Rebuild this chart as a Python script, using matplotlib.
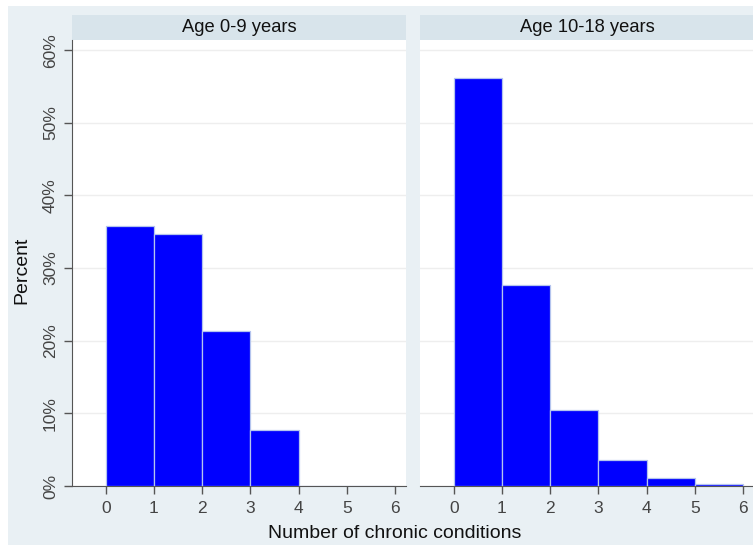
import matplotlib.pyplot as plt
from matplotlib.patches import Rectangle

# dados
condicoes = [0, 1, 2, 3, 4, 5]
pct_0_9 = [35.8, 34.7, 21.3, 7.7, 0.0, 0.0]
pct_10_18 = [56.2, 27.7, 10.5, 3.6, 1.1, 0.3]
paineis = ["Age 0-9 years", "Age 10-18 years"]
yticks = [0, 10, 20, 30, 40, 50, 60]
ytick_labels = ["0%", "10%", "20%", "30%", "40%", "50%", "60%"]

plt.rcParams['font.family'] = ['Liberation Sans', 'DejaVu Sans']

W, H = 753, 547
fig = plt.figure(figsize=(W / 100, H / 100), dpi=100)
fig.patch.set_facecolor('white')

bottom = 1 - 486 / H
top = 1 - 40 / H
largura = 334 / W
esquerdas = [72 / W, 420 / W]
cor_faixa = '#d8e4eb'

# fundo azulado (eixo de fundo)
fundo = fig.add_axes([0, 0, 1, 1], zorder=-10)
fundo.set_xlim(0, 1)
fundo.set_ylim(0, 1)
fundo.axis('off')
fundo.add_patch(Rectangle((8 / W, 0.004), 1, 1 - 6 / H - 0.004,
                          facecolor='#e9f0f4', edgecolor='none'))
for esq in esquerdas:
    fundo.add_patch(Rectangle((esq, top), largura, 25 / H,
                              facecolor=cor_faixa, edgecolor='none'))

for i, (titulo, dados) in enumerate(zip(paineis, [pct_0_9, pct_10_18])):
    ax = fig.add_axes([esquerdas[i], bottom, largura, top - bottom])
    ax.set_facecolor('white')
    ax.bar(condicoes, dados, width=1, align='edge', color='#0000ff',
           edgecolor='#b4c4ee', linewidth=0.9, zorder=3)
    ax.set_xlim(-0.7, 6.23)
    ax.set_ylim(0, 61.4)
    ax.set_xticks(range(7))
    ax.set_yticks(yticks)
    ax.grid(axis='y', color='#eeeeee', linewidth=1, zorder=0)
    for s in ['top', 'right']:
        ax.spines[s].set_visible(False)
    ax.spines['bottom'].set_color('#555555')
    ax.tick_params(axis='x', colors='#555555', labelcolor='#444444',
                   labelsize=12.5, length=6, width=1, pad=5)
    if i == 0:
        ax.spines['left'].set_color('#555555')
        ax.set_yticklabels(ytick_labels, rotation=90, va='center')
        ax.tick_params(axis='y', colors='#555555', labelcolor='#444444',
                       labelsize=12.5, length=6, width=1, pad=4)
    else:
        ax.spines['left'].set_visible(False)
        ax.tick_params(axis='y', left=False, labelleft=False)

    fig.text(esquerdas[i] + largura / 2, top + 12.5 / H, titulo,
             ha='center', va='center', fontsize=13.2, color='#111111')

fig.text(22 / W, 1 - 270 / H, "Percent", rotation=90, ha='center',
         va='center', fontsize=14, color='#111111')
fig.text(395 / W, 1 - 533 / H, "Number of chronic conditions", ha='center',
         va='center', fontsize=14, color='#111111')

plt.savefig("out.png", dpi=100, facecolor=fig.get_facecolor())
